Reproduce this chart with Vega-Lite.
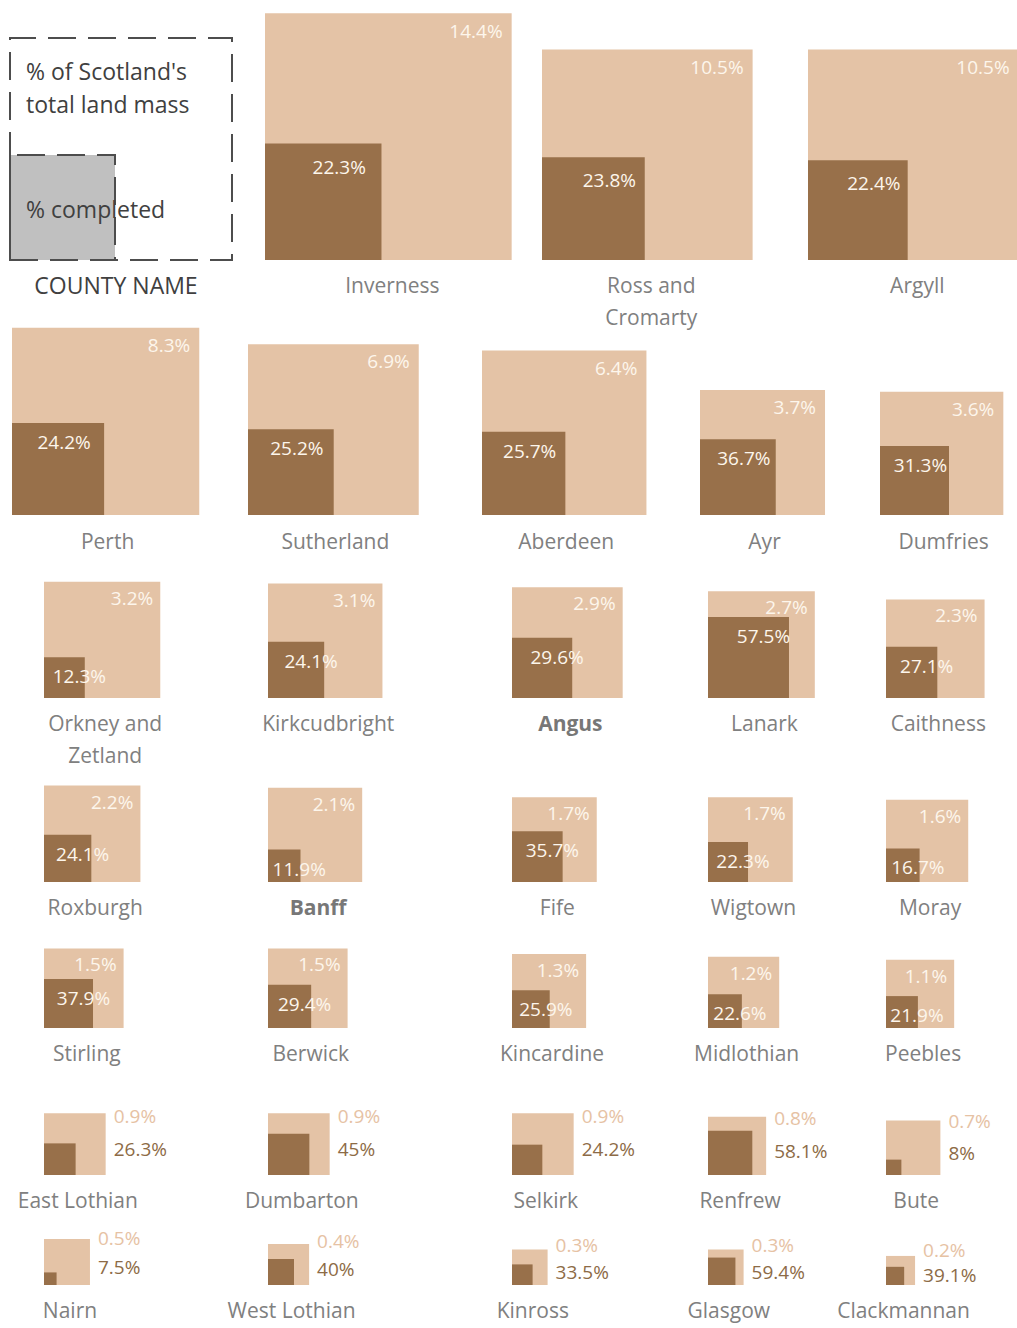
{
  "$schema": "https://vega.github.io/schema/vega-lite/v6.json",
  "width": 1017,
  "height": 1328,
  "padding": 0,
  "autosize": "none",
  "background": "white",
  "config": {"view": {"stroke": null}, "text": {"font": "Open Sans"}},
  "datasets": {
    "counties": [
      {"name": "Inverness", "row": 1, "col": 1, "land": 0.144, "comp": 0.223, "done": 0.032112},
      {"name": "Ross and\nCromarty", "row": 1, "col": 2, "land": 0.105, "comp": 0.238, "done": 0.02499},
      {"name": "Argyll", "row": 1, "col": 3, "land": 0.105, "comp": 0.224, "done": 0.02352},
      {"name": "Perth", "row": 2, "col": 0, "land": 0.083, "comp": 0.242, "done": 0.020086},
      {"name": "Sutherland", "row": 2, "col": 1, "land": 0.069, "comp": 0.252, "done": 0.017388},
      {"name": "Aberdeen", "row": 2, "col": 2, "land": 0.064, "comp": 0.257, "done": 0.016448},
      {"name": "Ayr", "row": 2, "col": 3, "land": 0.037, "comp": 0.367, "done": 0.013579},
      {"name": "Dumfries", "row": 2, "col": 4, "land": 0.036, "comp": 0.313, "done": 0.011268},
      {"name": "Orkney and\nZetland", "row": 3, "col": 0, "land": 0.032, "comp": 0.123, "done": 0.003936},
      {"name": "Kirkcudbright", "row": 3, "col": 1, "land": 0.031, "comp": 0.241, "done": 0.007471},
      {"name": "Angus", "row": 3, "col": 2, "land": 0.029, "comp": 0.296, "done": 0.008584},
      {"name": "Lanark", "row": 3, "col": 3, "land": 0.027, "comp": 0.575, "done": 0.015525},
      {"name": "Caithness", "row": 3, "col": 4, "land": 0.023, "comp": 0.271, "done": 0.006233},
      {"name": "Roxburgh", "row": 4, "col": 0, "land": 0.022, "comp": 0.241, "done": 0.005302},
      {"name": "Banff", "row": 4, "col": 1, "land": 0.021, "comp": 0.119, "done": 0.002499},
      {"name": "Fife", "row": 4, "col": 2, "land": 0.017, "comp": 0.357, "done": 0.006069},
      {"name": "Wigtown", "row": 4, "col": 3, "land": 0.017, "comp": 0.223, "done": 0.003791},
      {"name": "Moray", "row": 4, "col": 4, "land": 0.016, "comp": 0.167, "done": 0.002672},
      {"name": "Stirling", "row": 5, "col": 0, "land": 0.015, "comp": 0.379, "done": 0.005685},
      {"name": "Berwick", "row": 5, "col": 1, "land": 0.015, "comp": 0.294, "done": 0.00441},
      {"name": "Kincardine", "row": 5, "col": 2, "land": 0.013, "comp": 0.259, "done": 0.003367},
      {"name": "Midlothian", "row": 5, "col": 3, "land": 0.012, "comp": 0.226, "done": 0.002712},
      {"name": "Peebles", "row": 5, "col": 4, "land": 0.011, "comp": 0.219, "done": 0.002409},
      {"name": "East Lothian", "row": 6, "col": 0, "land": 0.009, "comp": 0.263, "done": 0.002367},
      {"name": "Dumbarton", "row": 6, "col": 1, "land": 0.009, "comp": 0.45, "done": 0.00405},
      {"name": "Selkirk", "row": 6, "col": 2, "land": 0.009, "comp": 0.242, "done": 0.002178},
      {"name": "Renfrew", "row": 6, "col": 3, "land": 0.008, "comp": 0.581, "done": 0.004648},
      {"name": "Bute", "row": 6, "col": 4, "land": 0.007, "comp": 0.08, "done": 0.00056},
      {"name": "Nairn", "row": 7, "col": 0, "land": 0.005, "comp": 0.075, "done": 0.000375},
      {"name": "West Lothian", "row": 7, "col": 1, "land": 0.004, "comp": 0.4, "done": 0.0016},
      {"name": "Kinross", "row": 7, "col": 2, "land": 0.003, "comp": 0.335, "done": 0.001005},
      {"name": "Glasgow", "row": 7, "col": 3, "land": 0.003, "comp": 0.594, "done": 0.001782},
      {"name": "Clackmannan", "row": 7, "col": 4, "land": 0.002, "comp": 0.391, "done": 0.000782}
    ],
    "key": [{"row": 1, "col": 0}]
  },
  "resolve": {"scale": {"x": "independent", "y": "independent"}},
  "layer": [
    {
      "data": {"name": "counties"},
      "transform": [{"filter": "datum.row == 1"}],
      "encoding": {
        "x": {"field": "col", "type": "quantitative", "scale": {"domain": [0, 1, 2, 3], "range": [10, 265, 542, 808], "nice": false, "zero": false}, "axis": null},
        "y": {"field": "row", "type": "quantitative", "scale": {"domain": [0, 1], "range": [0, 260], "nice": false, "zero": false}, "axis": null}
      },
      "layer": [
        {"data": {"name": "key"}, "mark": {"type": "point", "shape": "M0,0h2v-2h-2z", "filled": true, "opacity": 1, "size": 11025, "fill": "#c0c0c0", "stroke": "#4d4d4d", "strokeWidth": 2, "strokeDash": [28, 12]}},
        {"data": {"name": "key"}, "mark": {"type": "point", "shape": "M0,0h2v-2h-2z", "filled": false, "opacity": 1, "size": 49284, "fill": null, "stroke": "#4d4d4d", "strokeWidth": 2, "strokeDash": [28, 12]}},
        {"data": {"name": "key"}, "mark": {"type": "text", "text": "% of Scotland's\ntotal land mass", "lineBreak": "\n", "lineHeight": 33, "align": "left", "baseline": "top", "dx": 16, "dy": -198, "fontSize": 23, "fill": "#404040"}},
        {"data": {"name": "key"}, "mark": {"type": "text", "text": "% completed", "align": "left", "baseline": "top", "dx": 16, "dy": -60, "fontSize": 23, "fill": "#404040"}},
        {"data": {"name": "key"}, "mark": {"type": "text", "text": "COUNTY NAME", "align": "center", "baseline": "top", "dx": 106, "dy": 16, "fontSize": 23, "fill": "#404040"}},
        {"mark": {"type": "point", "shape": "M0,0h2v-2h-2z", "filled": true, "opacity": 1, "fill": "#e4c3a6", "strokeWidth": 0},
         "encoding": {"size": {"field": "land", "type": "quantitative", "scale": {"domain": [0, 0.16], "range": [0, 67600]}, "legend": null}}},
        {"mark": {"type": "point", "shape": "M0,0h2v-2h-2z", "filled": true, "opacity": 1, "fill": "#98704a", "strokeWidth": 0},
         "encoding": {"size": {"field": "done", "type": "quantitative", "scale": {"domain": [0, 0.16], "range": [0, 67600]}, "legend": null}}},
        {"mark": {"type": "text", "align": "right", "baseline": "middle", "fontSize": 19, "fill": "#fdf6ec",
                  "dx": {"expr": "sqrt(scale('size', datum.land)) - 9"}, "dy": {"expr": "19 - sqrt(scale('size', datum.land))"}},
         "encoding": {"text": {"field": "land", "type": "quantitative", "format": ".1~%"}}},
        {"mark": {"type": "text", "align": "center", "baseline": "middle", "fontSize": 19, "fill": "#fdf6ec",
                  "dx": {"expr": "sqrt(scale('size', datum.done)) / 2 + 16"}, "dy": {"expr": "24 - sqrt(scale('size', datum.done))"}},
         "encoding": {"text": {"field": "comp", "type": "quantitative", "format": ".1~%"}}},
        {"mark": {"type": "text", "align": "center", "baseline": "top", "dy": 16, "fontSize": 21, "fill": "#808080", "lineBreak": "\n", "lineHeight": 32,
                  "dx": {"expr": "sqrt(scale('size', datum.land)) / 2 + 4"}},
         "encoding": {"text": {"field": "name", "type": "nominal"}}}
      ]
    },
    {
      "data": {"name": "counties"},
      "transform": [{"filter": "datum.row == 2"}],
      "encoding": {
        "x": {"field": "col", "type": "quantitative", "scale": {"domain": [0, 1, 2, 3, 4], "range": [12, 248, 482, 700, 880], "nice": false, "zero": false}, "axis": null},
        "y": {"field": "row", "type": "quantitative", "scale": {"domain": [0, 2], "range": [0, 515], "nice": false, "zero": false}, "axis": null}
      },
      "layer": [
        {"mark": {"type": "point", "shape": "M0,0h2v-2h-2z", "filled": true, "opacity": 1, "fill": "#e4c3a6", "strokeWidth": 0},
         "encoding": {"size": {"field": "land", "type": "quantitative", "scale": {"domain": [0, 0.16], "range": [0, 67600]}, "legend": null}}},
        {"mark": {"type": "point", "shape": "M0,0h2v-2h-2z", "filled": true, "opacity": 1, "fill": "#98704a", "strokeWidth": 0},
         "encoding": {"size": {"field": "done", "type": "quantitative", "scale": {"domain": [0, 0.16], "range": [0, 67600]}, "legend": null}}},
        {"mark": {"type": "text", "align": "right", "baseline": "middle", "fontSize": 19, "fill": "#fdf6ec",
                  "dx": {"expr": "sqrt(scale('size', datum.land)) - 9"}, "dy": {"expr": "18 - sqrt(scale('size', datum.land))"}},
         "encoding": {"text": {"field": "land", "type": "quantitative", "format": ".1~%"}}},
        {"mark": {"type": "text", "align": "center", "baseline": "middle", "fontSize": 19, "fill": "#fdf6ec",
                  "dx": {"expr": "sqrt(scale('size', datum.done)) / 2 + 6"}, "dy": {"expr": "20 - sqrt(scale('size', datum.done))"}},
         "encoding": {"text": {"field": "comp", "type": "quantitative", "format": ".1~%"}}},
        {"mark": {"type": "text", "align": "center", "baseline": "top", "dy": 17, "fontSize": 21, "fill": "#808080", "lineBreak": "\n", "lineHeight": 32,
                  "dx": {"expr": "sqrt(scale('size', datum.land)) / 2 + 2"}},
         "encoding": {"text": {"field": "name", "type": "nominal"}}}
      ]
    },
    {
      "data": {"name": "counties"},
      "transform": [{"filter": "datum.row >= 3"}],
      "encoding": {
        "x": {"field": "col", "type": "quantitative", "scale": {"domain": [0, 1, 2, 3, 4], "range": [44, 268, 512, 708, 886], "nice": false, "zero": false}, "axis": null},
        "y": {"field": "row", "type": "quantitative", "scale": {"domain": [3, 4, 5, 6, 7], "range": [698, 882, 1028, 1175, 1285], "nice": false, "zero": false}, "axis": null}
      },
      "layer": [
        {"mark": {"type": "point", "shape": "M0,0h2v-2h-2z", "filled": true, "opacity": 1, "fill": "#e4c3a6", "strokeWidth": 0},
         "encoding": {"size": {"field": "land", "type": "quantitative", "scale": {"domain": [0, 0.16], "range": [0, 67600]}, "legend": null}}},
        {"mark": {"type": "point", "shape": "M0,0h2v-2h-2z", "filled": true, "opacity": 1, "fill": "#98704a", "strokeWidth": 0},
         "encoding": {"size": {"field": "done", "type": "quantitative", "scale": {"domain": [0, 0.16], "range": [0, 67600]}, "legend": null}}},
        {"transform": [{"filter": "datum.row <= 5"}],
         "mark": {"type": "text", "align": "right", "baseline": "middle", "fontSize": 19, "fill": "#fdf6ec",
                  "dx": {"expr": "sqrt(scale('size', datum.land)) - 7"}, "dy": {"expr": "17 - sqrt(scale('size', datum.land))"}},
         "encoding": {"text": {"field": "land", "type": "quantitative", "format": ".1~%"}}},
        {"transform": [{"filter": "datum.row <= 5"}],
         "mark": {"type": "text", "align": "center", "baseline": "middle", "fontSize": 19, "fill": "#fdf6ec",
                  "dx": {"expr": "sqrt(scale('size', datum.done)) / 2 + 15"}, "dy": {"expr": "20 - sqrt(scale('size', datum.done))"}},
         "encoding": {"text": {"field": "comp", "type": "quantitative", "format": ".1~%"}}},
        {"transform": [{"filter": "datum.row >= 6"}],
         "mark": {"type": "text", "align": "left", "baseline": "middle", "fontSize": 19, "fill": "#e6c2a4",
                  "dx": {"expr": "sqrt(scale('size', datum.land)) + 8"}, "dy": {"expr": "-0.75 * sqrt(scale('size', datum.land)) - 12"}},
         "encoding": {"text": {"field": "land", "type": "quantitative", "format": ".1~%"}}},
        {"transform": [{"filter": "datum.row >= 6"}],
         "mark": {"type": "text", "align": "left", "baseline": "middle", "fontSize": 19, "fill": "#8d6b46",
                  "dx": {"expr": "sqrt(scale('size', datum.land)) + 8"}, "dy": {"expr": "6 - sqrt(scale('size', datum.land)) / 2"}},
         "encoding": {"text": {"field": "comp", "type": "quantitative", "format": ".1~%"}}},
        {"transform": [{"filter": "datum.name != 'Angus' && datum.name != 'Banff'"}],
         "mark": {"type": "text", "align": "center", "baseline": "top", "dy": 16, "fontSize": 21, "fill": "#808080", "lineBreak": "\n", "lineHeight": 32,
                  "dx": {"expr": "sqrt(scale('size', datum.land)) / 2 + 3"}},
         "encoding": {"text": {"field": "name", "type": "nominal"}}},
        {"transform": [{"filter": "datum.name == 'Angus' || datum.name == 'Banff'"}],
         "mark": {"type": "text", "align": "center", "baseline": "top", "dy": 16, "fontSize": 21, "fontWeight": "bold", "fill": "#777777",
                  "dx": {"expr": "sqrt(scale('size', datum.land)) / 2 + 3"}},
         "encoding": {"text": {"field": "name", "type": "nominal"}}}
      ]
    }
  ]
}
